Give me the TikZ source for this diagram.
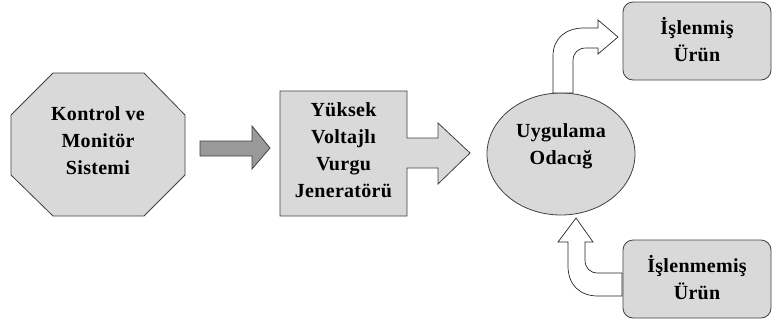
\documentclass[tikz,border=0pt]{standalone}
\usepackage{fontspec}
\usetikzlibrary{shapes.geometric}
\newfontfamily\tnr{Liberation Serif Bold}[LetterSpace=1.5]
\begin{document}
\begin{tikzpicture}[x=1pt,y=-1pt,
  shapeline/.style={draw=black!75, line width=0.8pt, line join=miter},
  lightfill/.style={fill=black!15},
  lbl/.style={font=\tnr\fontsize{20}{27}\selectfont, align=center, inner sep=0pt},
  rbox/.style={shapeline, lightfill, rounded corners=10pt},
  hollow/.style={draw=black!85, line width=0.7pt, fill=white, line join=miter}]
\useasboundingbox (0,0) rectangle (772,322);
% octagon
\draw[shapeline, lightfill] (53,73) -- (144,73) -- (185,115) -- (185,175) -- (144,216) -- (53,216) -- (11,175) -- (11,115) -- cycle;
\node[lbl] (kms) at (98,141) {Kontrol ve\\Monitör\\Sistemi};
% gray arrow
\draw[shapeline, fill=black!40] (200,141) -- (252,141) -- (252,126) -- (270,148) -- (252,169) -- (252,156) -- (200,156) -- cycle;
% generator box with arrow
\draw[shapeline, lightfill] (280,91) -- (407,91) -- (407,138) -- (438,138) -- (438,123) -- (470,153) -- (438,184) -- (438,168) -- (407,168) -- (407,216) -- (280,216) -- cycle;
\node[lbl] (gen) at (343.5,150) {Yüksek\\Voltajlı\\Vurgu\\Jeneratörü};
% chamber
\node[shapeline, lightfill, ellipse, minimum width=148pt, minimum height=122pt, inner sep=0pt] (cham) at (561,154) {};
\node[lbl] (chamtxt) at (561,146) {Uygulama\\Odacığ};
% processed product
\node[rbox, minimum width=148pt, minimum height=78pt, inner sep=0pt] (out) at (697,41) {};
\node[lbl] (outtxt) at (697,40) {İşlenmiş\\Ürün};
% unprocessed product
\node[rbox, minimum width=148pt, minimum height=78pt, inner sep=0pt] (in) at (697,279) {};
\node[lbl] (intxt) at (697,278) {İşlenmemiş\\Ürün};
% curved arrows
\draw[hollow] (553,93) -- (553,56) .. controls (553,38) and (566,28) .. (584,28) -- (598,28) -- (598,20) -- (618,37) -- (598,54) -- (598,48) -- (586,48) .. controls (578,48) and (573,53) .. (573,61) -- (573,93) -- cycle;
\draw[hollow] (622,296) -- (598,296) .. controls (580,296) and (568,285) .. (568,266) -- (568,242) -- (558,242) -- (576,218) -- (593,242) -- (585,242) -- (585,260) .. controls (585,268) and (590,273) .. (598,273) -- (622,273) -- cycle;
\end{tikzpicture}
\end{document}
